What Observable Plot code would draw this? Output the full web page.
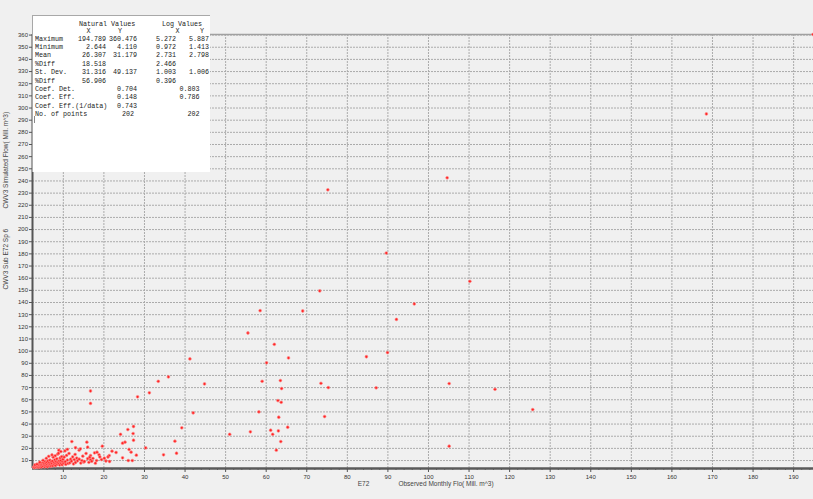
<!DOCTYPE html>
<html>
<head>
<meta charset="utf-8">
<script src="https://cdn.jsdelivr.net/npm/d3@7"></script>
<script src="https://cdn.jsdelivr.net/npm/@observablehq/plot@0.6"></script>
<style>
  html, body { margin: 0; padding: 0; background: #f0f0f0; overflow: hidden; }
  #wrap { position: relative; width: 813px; height: 499px; }
  #stats { position: absolute; left: 32px; top: 15px; width: 178px; height: 157px;
           background: #ffffff; border-left: 1px solid #a8a8a8; border-top: 1px solid #a8a8a8;
           box-sizing: border-box; font-family: "Liberation Mono", "DejaVu Sans Mono", monospace;
           font-size: 6.7px; color: #222; }
  #stats span { position: absolute; white-space: pre; line-height: 8px; }
  #caret { position: absolute; left: 1px; top: 100px; width: 1px; height: 7px; background: #888; }
</style>
</head>
<body>
<div id="wrap"></div>
<script>
// Observed monthly flow (X) and simulated flow (Y), Mill. m^3
const obsFlow = [
  194.8, 168.5, 104.6, 75.2, 89.6, 110.2, 73.2, 96.5, 58.5, 69.0, 92.1, 55.5, 62.0, 89.9, 60.1, 65.5, 84.7,
  44.8, 59.0, 63.5, 73.5, 75.3, 87.1, 105.1, 116.4, 63.8, 62.9, 63.7, 58.2, 63.1, 74.4, 65.3, 51.0, 56.1, 61.1, 63.0, 61.6, 63.6, 62.5, 105.1, 125.7,
  16.7, 16.7, 41.2, 35.9, 33.4, 31.2, 28.3, 42.0, 39.2, 27.3, 25.9, 27.2, 24.1, 27.3, 25.2, 24.6, 37.5, 19.6, 30.3, 22.0, 26.2, 26.7, 23.0, 37.9,
  34.7, 28.0, 17.7, 18.8, 21.3, 24.6, 20.1, 19.4, 17.3, 26.0, 27.0, 21.4, 17.9, 16.7,
  2.64, 2.9, 3.1, 3.3, 3.4, 3.6, 3.7, 3.8, 3.9,
  4.0, 4.1, 4.2, 4.3, 4.4, 4.5, 4.6, 4.7, 4.8, 4.9,
  5.0, 5.1, 5.2, 5.3, 5.4, 5.5, 5.6, 5.7, 5.8, 5.9,
  6.0, 6.1, 6.2, 6.3, 6.4, 6.5, 6.6, 6.7, 6.8, 6.9,
  7.0, 7.1, 7.2, 7.3, 7.4, 7.5, 7.6, 7.7, 7.8, 7.9,
  8.0, 8.1, 8.2, 8.3, 8.4, 8.5, 8.6, 8.7, 8.8, 8.9,
  9.0, 9.1, 9.2, 9.3, 9.4, 9.4, 9.5, 9.6, 9.7, 9.8, 9.9, 10.0,
  10.2, 10.3, 10.5, 10.6, 10.8, 11.0, 11.2, 11.4, 11.6, 11.8,
  12.0, 12.1, 12.3, 12.5, 12.7, 12.9, 13.0, 13.3, 13.5, 13.9, 13.9,
  14.2, 14.3, 14.6, 14.8, 15.0, 15.2, 15.6, 15.8, 16.0, 16.3, 16.5, 16.7,
  17.0, 18.2, 18.3, 19.0, 20.5, 21.0,
  3.0, 3.5, 4.2, 5.0, 5.8, 6.4, 7.2, 8.0, 8.8, 10.4, 11.0, 13.0, 16.0
];
const simFlow = [
  360.5, 295.1, 242.6, 232.7, 180.7, 157.4, 149.5, 138.8, 133.3, 133.0, 126.1, 114.9, 105.6, 98.8, 90.4, 94.4, 95.4,
  73.0, 75.2, 75.8, 73.5, 70.0, 69.8, 73.3, 68.6, 69.2, 59.3, 57.9, 50.0, 45.6, 46.2, 37.4, 31.6, 33.6, 34.9, 34.4, 31.6, 25.6, 18.5, 21.8, 51.9,
  67.2, 57.0, 93.6, 78.8, 75.2, 65.7, 62.4, 49.2, 36.9, 38.0, 35.5, 32.2, 31.6, 26.7, 25.1, 24.3, 25.9, 21.8, 20.4, 17.7, 19.1, 16.9, 16.6, 16.0,
  14.7, 14.4, 16.3, 14.7, 14.1, 12.2, 11.9, 10.8, 11.7, 10.0, 10.0, 9.2, 7.8, 14.1,
  4.6, 4.11, 5.0, 4.5, 5.6, 4.9, 6.2, 5.3, 4.4,
  6.8, 5.8, 4.9, 7.4, 5.5, 6.3, 4.7, 7.8, 5.9, 6.9,
  5.2, 8.3, 6.4, 7.2, 4.8, 9.1, 6.0, 7.7, 5.5, 8.6,
  6.7, 4.9, 9.6, 7.3, 5.8, 8.1, 6.4, 10.3, 7.0, 5.3,
  8.8, 6.1, 7.6, 9.5, 5.7, 12.8, 7.1, 8.4, 6.5, 10.6,
  7.8, 5.9, 9.2, 7.8, 11.4, 6.8, 15.2, 8.6, 7.2, 18.5,
  9.8, 6.3, 12.1, 8.0, 17.4, 10.0, 7.4, 13.3, 6.5, 9.1, 11.0, 7.9,
  12.8, 8.7, 9.0, 6.8, 14.2, 10.4, 7.6, 15.8, 8.1, 11.1,
  9.5, 25.6, 13.0, 7.2, 10.8, 15.0, 8.4, 12.0, 9.8, 18.5, 11.1,
  19.6, 7.9, 10.0, 13.6, 8.8, 9.2, 15.8, 25.1, 11.5, 8.5, 12.7, 10.6,
  9.4, 10.0, 16.8, 13.0, 9.6, 12.9,
  6.4, 7.0, 8.6, 10.2, 11.8, 13.5, 14.6, 13.9, 16.0, 17.9, 19.2, 20.5, 21.0
];

// Axis ranges and tick values
const xRange = [2.4, 194.9];
const yRange = [3.45, 360.48];
const xTicks = d3.range(10, 200, 10);
const xMinorTicks = d3.range(4, 196, 2);
const yTicks = d3.range(10, 370, 10);

// Summary statistics panel
const statRows = ["Maximum", "Minimum", "Mean", "%Diff", "St. Dev.", "%Diff", "Coef. Det.", "Coef. Eff.", "Coef. Eff.(1/data)", "No. of points"];
const natX = ["194.789", "2.644", "26.307", "18.518", "31.316", "56.906", "", "", "", ""];
const natY = ["360.476", "4.110", "31.179", "", "49.137", "", "0.704", "0.148", "0.743", "202"];
const logX = ["5.272", "0.972", "2.731", "2.466", "1.003", "0.396", "", "", "", ""];
const logY = ["5.887", "1.413", "2.798", "", "1.006", "", "0.803", "0.786", "", "202"];

const yTitleTop = "CWV3 Simulated Flow( Mill. m^3)";
const yTitleBottom = "CWV3 Sub E72 Sp 6";
const xTitleLeft = "E72";
const xTitleRight = "Observed Monthly Flo( Mill. m^3)";

const points = obsFlow.map((x, i) => ({x, y: simFlow[i]}));

const gridStyle = {stroke: "#ababab", strokeOpacity: 1, strokeWidth: 1, strokeDasharray: "2,1"};

const chart = Plot.plot({
  width: 813,
  height: 499,
  marginLeft: 32,
  marginRight: 0,
  marginTop: 34,
  marginBottom: 31,
  style: {background: "#f0f0f0", fontFamily: "Liberation Sans, Arial, sans-serif", fontSize: "6px", color: "#333"},
  x: {domain: xRange},
  y: {domain: yRange},
  marks: [
    Plot.gridX(xTicks, gridStyle),
    Plot.gridY(yTicks, gridStyle),
    Plot.ruleY([yRange[1]], {stroke: "#a0a0a0", strokeWidth: 1.5}),
    Plot.axisX(xMinorTicks, {tickSize: 2, tickFormat: () => "", stroke: "#666", label: null}),
    Plot.axisX(xTicks, {tickSize: 4, tickPadding: 2, stroke: "#555", fill: "#333", label: null, fontSize: 6}),
    Plot.axisY(yTicks, {tickSize: 3, tickPadding: 1.5, stroke: "#555", fill: "#333", label: null, fontSize: 6}),
    Plot.ruleX([xRange[0]], {stroke: "#555", strokeWidth: 2}),
    Plot.ruleY([yRange[0]], {stroke: "#5a5a5a", strokeWidth: 2.5}),
    Plot.dot(points, {x: "x", y: "y", r: 1.4, fill: "#ff2424", stroke: "#ff8a8a", strokeWidth: 0.8, strokeOpacity: 0.8}),
    Plot.text([yTitleTop], {frameAnchor: "left", dx: -27, dy: -43, rotate: -90, fontSize: 6.5, fill: "#444"}),
    Plot.text([yTitleBottom], {frameAnchor: "left", dx: -27, dy: 38, rotate: -90, fontSize: 6.5, fill: "#444"}),
    Plot.text([xTitleLeft], {frameAnchor: "bottom", dx: -59.5, dy: 17, fontSize: 6.5, fill: "#444"}),
    Plot.text([xTitleRight], {frameAnchor: "bottom", dx: 23, dy: 17, fontSize: 6.5, fill: "#444"})
  ]
});

const wrap = document.getElementById("wrap");
wrap.appendChild(chart);

// Statistics panel drawn over the upper-left of the plot
const panel = document.createElement("div");
panel.id = "stats";
wrap.appendChild(panel);
const ox = 32, oy = 15;
function put(text, left, top, align) {
  const s = document.createElement("span");
  s.textContent = text;
  if (align === "right") { s.style.right = (178 - (left - ox)) + "px"; }
  else { s.style.left = (left - ox) + "px"; }
  s.style.top = (top - oy) + "px";
  panel.appendChild(s);
}
put("Natural Values", 78, 18.5);
put("Log Values", 161, 18.5);
put("X", 85.5, 25.5); put("Y", 117, 25.5); put("X", 174.5, 25.5); put("Y", 199, 25.5);
statRows.forEach((label, i) => {
  const top = 33.5 + i * 8.4;
  put(label, 34, top);
  if (natX[i]) put(natX[i], 106, top, "right");
  if (natY[i]) put(natY[i], label === "No. of points" ? 134 : 137, top, "right");
  if (logX[i]) put(logX[i], 176, top, "right");
  if (logY[i]) put(logY[i], i >= 6 ? 199.5 : 209, top, "right");
});
const caret = document.createElement("div");
caret.id = "caret";
panel.appendChild(caret);
</script>
</body>
</html>
